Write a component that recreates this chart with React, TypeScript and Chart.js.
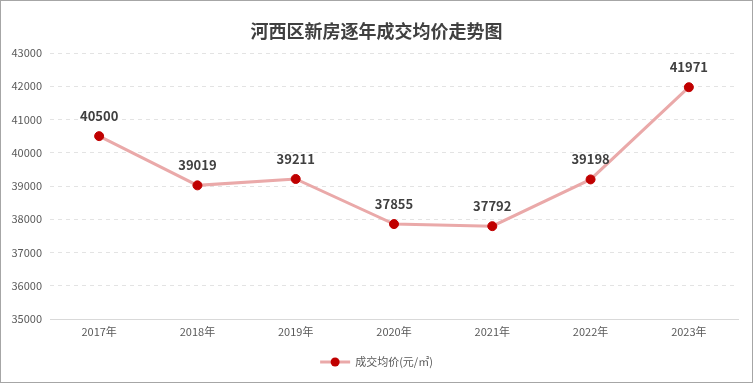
import React, { useEffect, useRef } from "react";
import { Chart, registerables } from "chart.js";

Chart.register(...registerables);

const categories = ["2017年", "2018年", "2019年", "2020年", "2021年", "2022年", "2023年"];
const prices = [40500, 39019, 39211, 37855, 37792, 39198, 41971];
const seriesName = "成交均价(元/㎡)";
const titleText = "河西区新房逐年成交均价走势图";
const yMin = 35000;
const yMax = 43000;
const yStep = 1000;

const FONT = "'Noto Sans CJK SC', 'Microsoft YaHei', sans-serif";

const overlayPlugin = {
  id: "overlay",
  afterDatasetsDraw(chart: any) {
    const ctx = chart.ctx;
    const meta = chart.getDatasetMeta(0);
    ctx.save();
    ctx.font = `bold 13px ${FONT}`;
    ctx.fillStyle = "#404040";
    ctx.textAlign = "center";
    ctx.textBaseline = "middle";
    meta.data.forEach((pt: any, i: number) => {
      ctx.fillText(String(prices[i]), pt.x, pt.y - 20);
    });
    ctx.restore();
  },
  afterDraw(chart: any) {
    const ctx = chart.ctx;
    const w = chart.width;
    ctx.save();
    ctx.font = `bold 18px ${FONT}`;
    ctx.fillStyle = "#404040";
    ctx.textAlign = "center";
    ctx.textBaseline = "middle";
    ctx.fillText(titleText, w / 2, 30);
    ctx.font = `11px ${FONT}`;
    ctx.textAlign = "left";
    const ly = 361;
    const textW = ctx.measureText(seriesName).width;
    const lineW = 30;
    const total = lineW + 5 + textW;
    const lx = w / 2 - total / 2;
    ctx.strokeStyle = "#eaa9a9";
    ctx.lineWidth = 3;
    ctx.beginPath();
    ctx.moveTo(lx, ly);
    ctx.lineTo(lx + lineW, ly);
    ctx.stroke();
    ctx.fillStyle = "#c00000";
    ctx.beginPath();
    ctx.arc(lx + lineW / 2, ly, 4.5, 0, Math.PI * 2);
    ctx.fill();
    ctx.fillStyle = "#595959";
    ctx.fillText(seriesName, lx + lineW + 5, ly);
    ctx.restore();
  },
};

export default function App() {
  const ref = useRef<HTMLCanvasElement | null>(null);
  useEffect(() => {
    if (!ref.current) return;
    const chart = new Chart(ref.current, {
      type: "line",
      data: {
        labels: categories,
        datasets: [
          {
            label: seriesName,
            data: prices,
            borderColor: "#eaa9a9",
            borderWidth: 3,
            pointBackgroundColor: "#c00000",
            pointBorderColor: "#c00000",
            pointRadius: 4.5,
            pointBorderWidth: 1,
            tension: 0,
          },
        ],
      },
      options: {
        responsive: false,
        maintainAspectRatio: false,
        animation: false,
        layout: { padding: { top: 52, bottom: 39, left: 0, right: 14 } },
        plugins: {
          legend: { display: false },
          title: { display: false },
          tooltip: { enabled: false },
        },
        scales: {
          x: {
            offset: true,
            grid: { display: false, drawTicks: false },
            border: { display: true, color: "#d9d9d9", width: 1 },
            ticks: {
              color: "#595959",
              font: { family: FONT, size: 11 },
              padding: 6,
              maxRotation: 0,
            },
            afterFit(scale: any) {
              scale.height = 24;
            },
          },
          y: {
            min: yMin,
            max: yMax,
            ticks: {
              stepSize: yStep,
              color: "#595959",
              font: { family: FONT, size: 11 },
              padding: 8,
              callback: (v: any) => String(v),
            },
            grid: {
              color: "#e3e3e3",
              drawTicks: false,
            },
            border: { display: false, dash: [4, 4] },
            afterFit(scale: any) {
              scale.width = 49;
            },
          },
        },
      },
      plugins: [overlayPlugin],
    });
    return () => chart.destroy();
  }, []);
  return (
    <div
      style={{
        position: "absolute",
        left: 0,
        top: 0,
        width: 753,
        height: 383,
        boxSizing: "border-box",
        border: "1px solid #a6a6a6",
        background: "#fff",
      }}
    >
      <canvas ref={ref} width={751} height={381} style={{ display: "block" }} />
    </div>
  );
}
